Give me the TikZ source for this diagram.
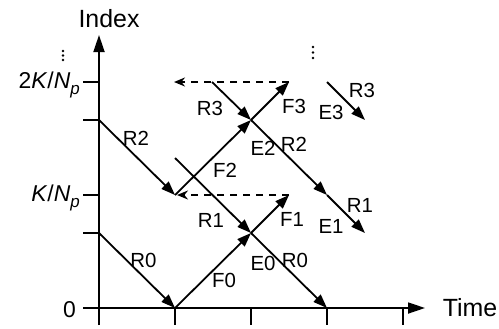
\documentclass[tikz,border=0pt]{standalone}
\usepackage{fontspec}
\setmainfont{Liberation Sans}
\usetikzlibrary{arrows.meta}
\begin{document}
\begin{tikzpicture}[x=1bp,y=-1bp,
  ln/.style={line width=1.8bp},
  arr/.style={ln,-{Triangle[length=14bp,width=10bp]}},
  axis/.style={ln,-{Triangle[length=17bp,width=11bp]}},
  dsh/.style={ln,dash pattern=on 7bp off 6bp,-{Stealth[length=11bp,width=9bp]}},
  lab/.style={inner sep=0pt,font=\fontsize{20.5}{20.5}\selectfont},
  big/.style={inner sep=0pt,font=\fontsize{25}{25}\selectfont},
  tick/.style={inner sep=0pt,font=\fontsize{23}{23}\selectfont}]
\useasboundingbox (0,0) rectangle (499,328);
% axes
\coordinate (ybot) at (99,325);
\coordinate (ytop) at (99,35);
\coordinate (xl) at (83,308);
\coordinate (xr) at (425,308);
\draw[axis] (ybot) -- (ytop);
\draw[axis] (xl) -- (xr);
\foreach \yy in {82,120,195,233} \draw[ln] (83,\yy) -- (99,\yy);
\foreach \xx in {175,251,327,403} \draw[ln] (\xx,308) -- (\xx,325);
\node[big] (index) at (109,19) {Index};
\node[big] (time) at (470,307.5) {Time};
\node[tick,anchor=base east] (k2) at (80,88) {2\textit{K}/\textit{N}\raisebox{-0.3em}{\fontsize{17}{17}\selectfont\textit{p}}};
\node[tick,anchor=base east] (k1) at (80,201) {\textit{K}/\textit{N}\raisebox{-0.3em}{\fontsize{17}{17}\selectfont\textit{p}}};
\node[tick,anchor=base east] (zero) at (76,317) {0};
% dots
\foreach \yy in {51,55.5,60} \fill (63,\yy) circle (1.4bp);
\foreach \yy in {47,52.5,58} \fill (313,\yy) circle (1.4bp);
% points
\coordinate (r0s) at (99,233);
\coordinate (p1) at (175,308);
\coordinate (p2) at (251,233);
\coordinate (p3) at (327,308);
\coordinate (f1e) at (289,195);
\coordinate (k1p) at (175,195);
\coordinate (d1e) at (177,195);
\coordinate (r2s) at (99,120);
\coordinate (r1s) at (175,158);
\coordinate (c2) at (251,120);
\coordinate (f3e) at (289,82);
\coordinate (d2e) at (174,82);
\coordinate (r3s) at (212,82);
\coordinate (m) at (327,195);
\coordinate (e1e) at (365,233);
\coordinate (r3rs) at (327,82);
\coordinate (e3e) at (365,120);
% lines
\draw[arr] (r0s) -- (p1);
\draw[arr] (p1) -- (p2);
\draw[arr] (r1s) -- (p2);
\draw[arr] (p2) -- (p3);
\draw[arr] (p2) -- (f1e);
\draw[dsh] (f1e) -- (d1e);
\draw[arr] (r2s) -- (k1p);
\draw[arr] (k1p) -- (c2);
\draw[arr] (r3s) -- (c2);
\draw[arr] (c2) -- (f3e);
\draw[dsh] (f3e) -- (d2e);
\draw[arr] (c2) -- (m);
\draw[arr] (m) -- (e1e);
\draw[arr] (r3rs) -- (e3e);
% labels
\node[lab] (lr0a) at (143.5,260) {R0};
\node[lab] (lf0) at (224,280) {F0};
\node[lab] (lr1a) at (211,220) {R1};
\node[lab] (lf1) at (292,219) {F1};
\node[lab] (le1) at (331,226) {E1};
\node[lab] (lr1b) at (360,205) {R1};
\node[lab] (le0) at (263,263) {E0};
\node[lab] (lr0b) at (295,260) {R0};
\node[lab] (lr2a) at (136,138) {R2};
\node[lab] (lr3a) at (210,108) {R3};
\node[lab] (lf2) at (225,170) {F2};
\node[lab] (lf3) at (294,106) {F3};
\node[lab] (le3) at (331,112) {E3};
\node[lab] (lr3b) at (362,90) {R3};
\node[lab] (le2) at (263,148) {E2};
\node[lab] (lr2b) at (294,144) {R2};
\end{tikzpicture}
\end{document}
